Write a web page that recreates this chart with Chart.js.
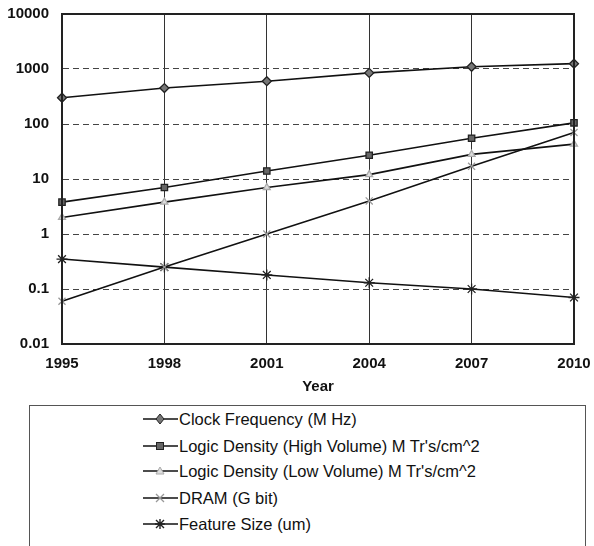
<!DOCTYPE html>
<html>
<head>
<meta charset="utf-8">
<script src="https://cdn.jsdelivr.net/npm/chart.js@4.4.1/dist/chart.umd.min.js"></script>
<style>
  body { margin: 0; background: #fff; width: 594px; height: 546px; overflow: hidden; position: relative; }
  #wrap { position: absolute; left: 0; top: 0; width: 594px; height: 400px; }
  #legend { position: absolute; left: 29px; top: 405px; width: 555px; height: 160px;
    border: 1px solid #555; border-bottom: none; font-family: "Liberation Sans", Arial, sans-serif; font-size: 16.5px; color: #111; }
  .item { position: absolute; left: 113px; height: 20px; display: flex; align-items: center; }
  .item svg { margin-right: 1px; }
</style>
</head>
<body>
<div id="wrap"><canvas id="myChart" width="594" height="400"></canvas></div>
<div id="legend"></div>
<script>
// ---- data ----
var years = ['1995', '1998', '2001', '2004', '2007', '2010'];
var clockFreq = [300, 450, 600, 850, 1100, 1250];
var logicHigh = [3.8, 7, 14, 27, 55, 105];
var logicLow = [2, 3.8, 7, 12, 28, 43];
var dram = [0.06, 0.25, 1, 4, 17, 70];
var featureSize = [0.35, 0.25, 0.18, 0.13, 0.1, 0.07];
var yTicks = [0.01, 0.1, 1, 10, 100, 1000, 10000];

var seriesNames = [
  'Clock Frequency (M Hz)',
  "Logic Density (High Volume) M Tr's/cm^2",
  "Logic Density (Low Volume) M Tr's/cm^2",
  'DRAM (G bit)',
  'Feature Size (um)'
];
var seriesData = [clockFreq, logicHigh, logicLow, dram, featureSize];
var styles = [
  { pointStyle: 'rectRot', radius: 4.5, fill: '#777', border: '#222' },
  { pointStyle: 'rect', radius: 4.5, fill: '#666', border: '#222' },
  { pointStyle: 'triangle', radius: 4, fill: '#ddd', border: '#aaa' },
  { pointStyle: 'crossRot', radius: 5, fill: '#999', border: '#999' },
  { pointStyle: 'star', radius: 5.5, fill: '#222', border: '#222' }
];

var datasets = [];
for (var i = 0; i < seriesNames.length; i++) {
  datasets.push({
    label: seriesNames[i],
    data: seriesData[i],
    borderColor: '#111',
    borderWidth: 1.6,
    pointStyle: styles[i].pointStyle,
    pointRadius: styles[i].radius,
    pointBackgroundColor: styles[i].fill,
    pointBorderColor: styles[i].border,
    pointBorderWidth: 1.3,
    tension: 0
  });
}

// solid frame round the plot area
var framePlugin = {
  id: 'frame',
  afterDraw: function (chart) {
    var a = chart.chartArea, ctx = chart.ctx;
    ctx.save();
    ctx.strokeStyle = '#222';
    ctx.lineWidth = 2;
    ctx.strokeRect(a.left, a.top, a.right - a.left, a.bottom - a.top);
    ctx.restore();
  }
};

var tickFont = { family: '"Liberation Sans", Arial, sans-serif', size: 15, weight: 'bold' };

new Chart(document.getElementById('myChart'), {
  type: 'line',
  data: { labels: years, datasets: datasets },
  options: {
    responsive: false,
    animation: false,
    layout: { padding: { top: 14, right: 20, left: 0, bottom: 0 } },
    plugins: { legend: { display: false }, tooltip: { enabled: false } },
    scales: {
      x: {
        offset: false,
        grid: { color: '#333', lineWidth: 1, drawTicks: false },
        border: { color: '#222', width: 2 },
        ticks: { color: '#111', font: tickFont, padding: 11, maxRotation: 0 },
        title: { display: true, text: 'Year', color: '#111', font: tickFont, padding: { top: 4 } },
        afterFit: function (s) { s.height = 56; s.paddingLeft = 0; s.paddingRight = 0; }
      },
      y: {
        type: 'logarithmic',
        min: 0.01,
        max: 10000,
        afterBuildTicks: function (s) {
          s.ticks = yTicks.map(function (v) { return { value: v }; });
        },
        grid: { color: '#444', lineWidth: 1, drawTicks: false },
        border: { color: '#222', width: 2, dash: [6, 4] },
        ticks: {
          color: '#111', font: tickFont, padding: 13,
          callback: function (v) { return String(v); }
        },
        afterFit: function (s) { s.width = 62; s.paddingTop = 0; s.paddingBottom = 0; }
      }
    }
  },
  plugins: [framePlugin]
});

// legend below the chart
var legend = document.getElementById('legend');
var rowTops = [3, 30, 55, 82, 108];
for (var k = 0; k < seriesNames.length; k++) {
  var st = styles[k];
  var m = '';
  var f = st.fill, b = st.border;
  if (st.pointStyle === 'rectRot') m = '<polygon points="17,5 21,10 17,15 13,10" fill="' + f + '" stroke="' + b + '"/>';
  if (st.pointStyle === 'rect') m = '<rect x="13.5" y="6.5" width="7" height="7" fill="' + f + '" stroke="' + b + '"/>';
  if (st.pointStyle === 'triangle') m = '<polygon points="17,6 21,13 13,13" fill="' + f + '" stroke="' + b + '"/>';
  if (st.pointStyle === 'crossRot') m = '<path d="M13,6 L21,14 M21,6 L13,14" stroke="' + b + '" stroke-width="1.3"/>';
  if (st.pointStyle === 'star') m = '<path d="M13,6 L21,14 M21,6 L13,14 M17,5 L17,15 M12,10 L22,10" stroke="' + b + '" stroke-width="1.4"/>';
  var div = document.createElement('div');
  div.className = 'item';
  div.style.top = rowTops[k] + 'px';
  div.innerHTML = '<svg width="35" height="20"><line x1="0" y1="10" x2="35" y2="10" stroke="#111" stroke-width="1.6"/>' + m + '</svg><span>' + seriesNames[k] + '</span>';
  legend.appendChild(div);
}
</script>
</body>
</html>
